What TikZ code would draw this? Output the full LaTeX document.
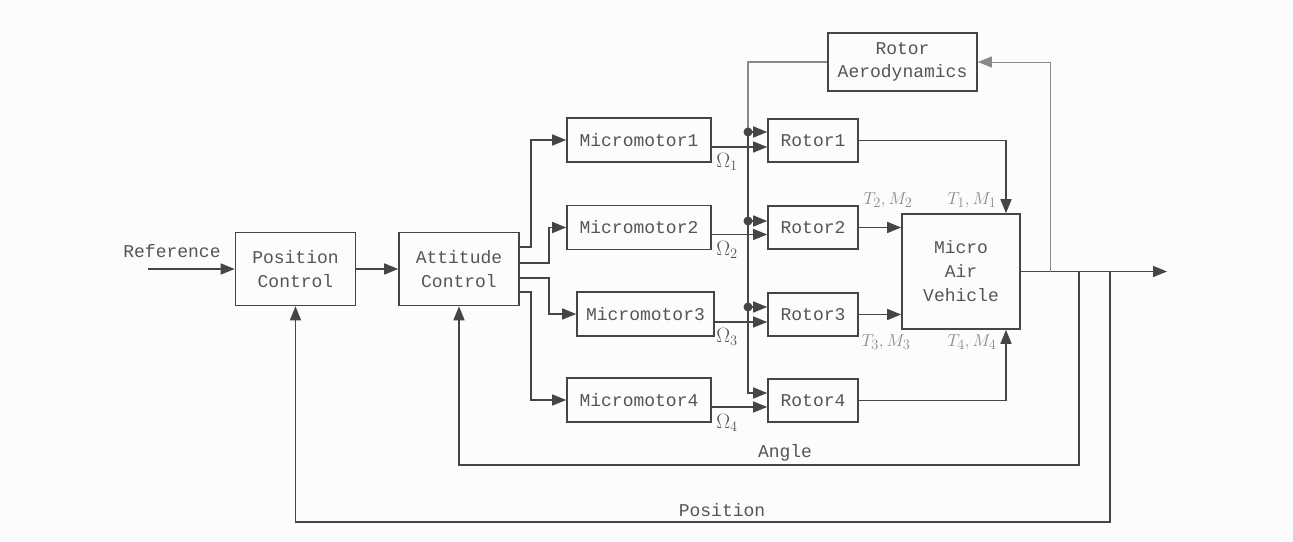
\documentclass[tikz,border=0pt]{standalone}
\usepackage{fontspec}
\setmonofont{Liberation Mono}
\usetikzlibrary{arrows.meta,calc}
\definecolor{ln}{HTML}{454545}
\definecolor{tx}{HTML}{555555}
\definecolor{lt}{HTML}{8A8A8A}
\begin{document}
\begin{tikzpicture}[x=1pt,y=-1pt,
  blk/.style={draw=ln,line width=1.6pt,text=tx,font=\ttfamily\fontsize{18}{24}\selectfont,align=center,inner sep=0pt},
  arr/.style={draw=ln,line width=1.5pt,-{Triangle[length=14pt,width=11pt]}},
  lin/.style={draw=ln,line width=1.5pt},
  thinarr/.style={draw=lt,line width=1pt,-{Triangle[length=14pt,width=11pt]}},
  lab/.style={text=tx,font=\ttfamily\fontsize{18}{24}\selectfont,inner sep=0pt},
  mlab/.style={text=lt,font=\fontsize{19}{22}\selectfont,inner sep=0pt},
  wlab/.style={text=tx,font=\fontsize{21}{24}\selectfont,inner sep=0pt}]
\fill[white!97!blue!40!white] (0,0) rectangle (1293,541);
\useasboundingbox (0,0) rectangle (1293,541);
% blocks
\node[blk,minimum width=120,minimum height=73] (pos) at (295.5,269) {Position\\Control};
\node[blk,minimum width=120,minimum height=73] (att) at (459,269) {Attitude\\Control};
\node[blk,minimum width=144,minimum height=44] (mm1) at (639,140) {Micromotor1};
\node[blk,minimum width=144,minimum height=44] (mm2) at (639,227.5) {Micromotor2};
\node[blk,minimum width=137,minimum height=44] (mm3) at (645.5,314) {Micromotor3};
\node[blk,minimum width=144,minimum height=44] (mm4) at (639,400) {Micromotor4};
\node[blk,minimum width=90,minimum height=43] (r1) at (813,140.5) {Rotor1};
\node[blk,minimum width=90,minimum height=43] (r2) at (813,227.5) {Rotor2};
\node[blk,minimum width=90,minimum height=43] (r3) at (813,314.5) {Rotor3};
\node[blk,minimum width=90,minimum height=43] (r4) at (813,400.5) {Rotor4};
\node[blk,minimum width=149,minimum height=58,font=\ttfamily\fontsize{18}{23}\selectfont] (ra) at (902.5,62) {Rotor\\Aerodynamics};
\node[blk,minimum width=118,minimum height=115] (mav) at (961,271.5) {Micro\\Air\\Vehicle};
% reference input
\node[lab] (reflab) at (172,251) {Reference};
\coordinate (refin) at (148,269);
\draw[arr] (refin) -- (pos.west);
\draw[arr] (pos.east) -- (att.west);
% attitude to micromotors
\draw[arr] ($(att.east)+(0,-22)$) -- ++(11,0) |- (mm1.west);
\draw[arr] ($(att.east)+(0,-6)$) -- ++(29,0) |- (mm2.west);
\draw[arr] ($(att.east)+(0,9)$) -- ++(29,0) |- (mm3.west);
\draw[arr] ($(att.east)+(0,23)$) -- ++(11,0) |- (mm4.west);
% omega lines
\coordinate (o1) at ($(mm1.east)+(0,7)$);
\coordinate (o2) at ($(mm2.east)+(0,7)$);
\coordinate (o3) at ($(mm3.east)+(0,8)$);
\coordinate (o4) at ($(mm4.east)+(0,7)$);
\draw[arr,line width=1.1pt] (o1) -- (o1 -| r1.west);
\draw[arr,line width=1.1pt] (o2) -- (o2 -| r2.west);
\draw[arr,line width=1.1pt] (o3) -- (o3 -| r3.west);
\draw[arr,line width=1.1pt] (o4) -- (o4 -| r4.west);
\node[wlab] (w1) at (727,162) {$\Omega_1$};
\node[wlab] (w2) at (727,250) {$\Omega_2$};
\node[wlab] (w3) at (727,337) {$\Omega_3$};
\node[wlab] (w4) at (727,423) {$\Omega_4$};
% bus from rotor aerodynamics
\coordinate (d1) at (748,132);
\coordinate (d2) at (748,221);
\coordinate (d3) at (748,307);
\coordinate (bus4) at (748,393);
\draw[draw=lt,line width=1.1pt] (ra.west) -| (d1);
\draw[lin] (d1) -- (d2) -- (d3);
\draw[arr] (d3) -- (bus4) -- (bus4 -| r4.west);
\draw[arr] (d1) -- (d1 -| r1.west);
\draw[arr] (d2) -- (d2 -| r2.west);
\draw[arr] (d3) -- (d3 -| r3.west);
\foreach \d in {d1,d2,d3} \fill[ln] (\d) circle (4.5);
% rotors to MAV
\draw[arr] (r1.east) -| ($(mav.north)+(45,0)$);
\draw[arr] (r2.east) -- (r2.east -| mav.west);
\draw[arr] (r3.east) -- (r3.east -| mav.west);
\draw[arr] (r4.east) -| ($(mav.south)+(45,0)$);
\node[mlab] (tm2) at (888,200) {$T_2,M_2$};
\node[mlab] (tm1) at (972,200) {$T_1,M_1$};
\node[mlab] (tm3) at (886,342) {$T_3,M_3$};
\node[mlab] (tm4) at (972,342) {$T_4,M_4$};
% output and feedback
\coordinate (out) at (1167,271.5);
\draw[arr] (mav.east) -- (out);
\coordinate (fb0) at (1050,271.5);
\draw[thinarr] (fb0) |- (ra.east);
\coordinate (fa) at (1079,271.5);
\coordinate (fa2) at (1079,465);
\draw[arr] (fa) -- (fa2) -| (att.south);
\coordinate (fp) at (1110,271.5);
\coordinate (fp2) at (1110,522);
\draw[arr] (fp) -- (fp2) -| (pos.south);
\node[lab] (anglab) at (785,453) {Angle};
\node[lab] (poslab) at (722,510) {Position};
\end{tikzpicture}
\end{document}
